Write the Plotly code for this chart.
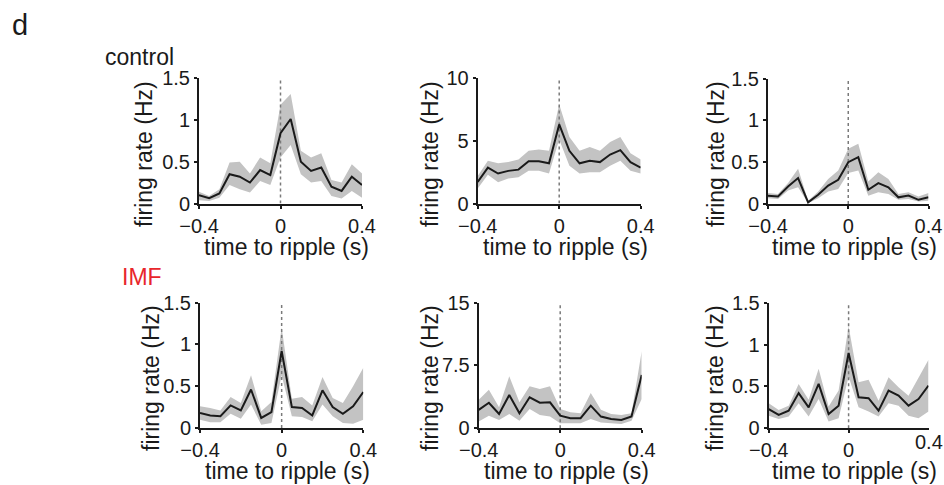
import plotly.graph_objects as go

W, H = 944, 485

t = [-0.4, -0.35, -0.3, -0.25, -0.2, -0.15, -0.1, -0.05, 0.0,
     0.05, 0.1, 0.15, 0.2, 0.25, 0.3, 0.35, 0.4]

# control neuron 1
c1_mean = [0.10, 0.064, 0.12, 0.35, 0.32, 0.25, 0.40, 0.34, 0.84, 1.01, 0.50, 0.39, 0.43, 0.20, 0.15, 0.32, 0.22]
c1_up = [0.14, 0.09, 0.17, 0.49, 0.50, 0.36, 0.55, 0.48, 1.18, 1.31, 0.63, 0.55, 0.60, 0.28, 0.25, 0.47, 0.36]
c1_lo = [0.04, 0.03, 0.07, 0.22, 0.17, 0.13, 0.27, 0.22, 0.55, 0.70, 0.35, 0.25, 0.27, 0.09, 0.06, 0.15, 0.07]

# control neuron 2
c2_mean = [1.72, 2.86, 2.39, 2.6, 2.7, 3.37, 3.37, 3.2, 6.3, 4.2, 3.2, 3.4, 3.3, 3.9, 4.25, 3.3, 2.86]
c2_up = [2.2, 3.4, 3.2, 3.3, 3.5, 4.2, 4.3, 4.2, 7.9, 5.3, 4.2, 4.5, 4.2, 4.9, 5.3, 4.0, 3.5]
c2_lo = [1.2, 2.3, 1.7, 2.0, 2.1, 2.6, 2.6, 2.4, 5.1, 3.0, 2.4, 2.5, 2.5, 3.0, 3.4, 2.6, 2.4]

# control neuron 3
c3_mean = [0.10, 0.09, 0.21, 0.31, 0.02, 0.11, 0.22, 0.29, 0.50, 0.56, 0.17, 0.25, 0.20, 0.08, 0.10, 0.05, 0.08]
c3_up = [0.13, 0.12, 0.25, 0.42, 0.04, 0.15, 0.30, 0.40, 0.66, 0.72, 0.27, 0.38, 0.30, 0.12, 0.14, 0.09, 0.13]
c3_lo = [0.07, 0.06, 0.16, 0.20, 0.01, 0.07, 0.15, 0.18, 0.37, 0.40, 0.10, 0.14, 0.12, 0.05, 0.06, 0.03, 0.04]

# IMF neuron 1
i1_mean = [0.18, 0.15, 0.14, 0.27, 0.21, 0.46, 0.12, 0.19, 0.92, 0.25, 0.24, 0.15, 0.45, 0.25, 0.17, 0.26, 0.43]
i1_up = [0.26, 0.24, 0.21, 0.37, 0.30, 0.63, 0.20, 0.31, 1.20, 0.35, 0.37, 0.27, 0.61, 0.36, 0.30, 0.50, 0.72]
i1_lo = [0.10, 0.07, 0.07, 0.17, 0.11, 0.28, 0.04, 0.06, 0.63, 0.14, 0.13, 0.08, 0.28, 0.14, 0.06, 0.05, 0.10]

# IMF neuron 2
i2_mean = [2.2, 3.05, 1.7, 3.97, 1.8, 3.7, 3.05, 3.1, 1.5, 1.2, 1.2, 2.7, 1.4, 1.1, 1.0, 1.4, 6.35]
i2_up = [3.4, 4.6, 2.5, 6.2, 3.1, 5.0, 4.7, 5.0, 2.3, 1.9, 1.8, 4.2, 2.2, 1.7, 1.6, 1.8, 9.2]
i2_lo = [0.8, 1.5, 1.0, 1.7, 0.9, 2.3, 1.6, 1.4, 0.6, 0.6, 0.6, 1.1, 0.7, 0.6, 0.5, 0.9, 3.5]

# IMF neuron 3
i3_mean = [0.23, 0.16, 0.21, 0.42, 0.25, 0.53, 0.17, 0.27, 0.90, 0.37, 0.36, 0.21, 0.45, 0.39, 0.27, 0.35, 0.51]
i3_up = [0.30, 0.22, 0.27, 0.53, 0.34, 0.71, 0.26, 0.45, 1.22, 0.55, 0.58, 0.33, 0.61, 0.49, 0.39, 0.60, 0.82]
i3_lo = [0.15, 0.11, 0.14, 0.30, 0.14, 0.35, 0.08, 0.12, 0.62, 0.25, 0.20, 0.14, 0.30, 0.27, 0.15, 0.12, 0.20]

x_tickvals = [-0.4, 0, 0.4]
x_ticktext = ["\u22120.4", "0", "0.4"]
y_ticks_small = [0, 0.5, 1, 1.5]
y_ticktext_small = ["0", "0.5", "1", "1.5"]
y_ticks_c2 = [0, 5, 10]
y_ticktext_c2 = ["0", "5", "10"]
y_ticks_i2 = [0, 7.5, 15]
y_ticktext_i2 = ["0", "7.5", "15"]

x_title = "time to ripple (s)"
y_title = "firing rate (Hz)"
group_labels = ["control", "IMF"]
panel_letter = "d"

FONT = "Liberation Sans, Arial, sans-serif"
INK = "#1a1a1a"
BAND = "#c3c3c3"

panels = [
    # mean, up, lo, ymax, tickvals, ticktext, x px range, y px range, ytitle px
    (c1_mean, c1_up, c1_lo, 1.5, y_ticks_small, y_ticktext_small, (199, 362), (78, 203.5), (144, 154)),
    (c2_mean, c2_up, c2_lo, 10, y_ticks_c2, y_ticktext_c2, (477.7, 640.7), (78, 203.5), (430, 154)),
    (c3_mean, c3_up, c3_lo, 1.5, y_ticks_small, y_ticktext_small, (768, 928.5), (78.5, 204), (716, 154)),
    (i1_mean, i1_up, i1_lo, 1.5, y_ticks_small, y_ticktext_small, (200, 363.3), (302.5, 428), (151, 378)),
    (i2_mean, i2_up, i2_lo, 15, y_ticks_i2, y_ticktext_i2, (478.7, 641.7), (302.5, 428.3), (430, 378)),
    (i3_mean, i3_up, i3_lo, 1.5, y_ticks_small, y_ticktext_small, (768.7, 928.5), (302.7, 428.3), (715, 378)),
]

fig = go.Figure()
layout = dict(
    template="none",
    width=W, height=H,
    margin=dict(l=0, r=0, t=0, b=0, pad=0, autoexpand=False),
    paper_bgcolor="white", plot_bgcolor="white",
    showlegend=False,
    font=dict(family=FONT, color=INK, size=20),
)
annotations = []

for k, (mean, up, lo, ymax, yt, ytt, xpx, ypx, ytp) in enumerate(panels):
    n = k + 1
    xa = "x" if n == 1 else f"x{n}"
    ya = "y" if n == 1 else f"y{n}"
    # band
    fig.add_trace(go.Scatter(
        x=t + t[::-1], y=up + lo[::-1], fill="toself", fillcolor=BAND,
        line=dict(width=0), mode="lines", hoverinfo="skip",
        xaxis=xa, yaxis=ya))
    # zero line
    fig.add_trace(go.Scatter(
        x=[0, 0], y=[0, ymax], mode="lines",
        line=dict(color="#7a7a7a", width=1.5, dash="dot"),
        xaxis=xa, yaxis=ya))
    # mean
    fig.add_trace(go.Scatter(
        x=t, y=mean, mode="lines", line=dict(color=INK, width=2),
        xaxis=xa, yaxis=ya))

    xkey = "xaxis" if n == 1 else f"xaxis{n}"
    ykey = "yaxis" if n == 1 else f"yaxis{n}"
    # bottom-right panel: its last x label is placed as an annotation below
    xtv = x_tickvals if n != 6 else x_tickvals[:-1]
    xtt = x_ticktext if n != 6 else x_ticktext[:-1]
    layout[xkey] = dict(
        domain=[xpx[0] / W, xpx[1] / W], range=[-0.4, 0.4], anchor=ya,
        automargin=False,
        showgrid=False, zeroline=False, showline=True, linecolor=INK, linewidth=2,
        ticks="outside", ticklen=3, tickwidth=1.5, tickcolor=INK,
        tickmode="array", tickvals=xtv, ticktext=xtt,
        tickfont=dict(size=20, family=FONT, color=INK),
    )
    layout[ykey] = dict(
        domain=[1 - ypx[1] / H, 1 - ypx[0] / H], range=[0, ymax], anchor=xa,
        automargin=False,
        showgrid=False, zeroline=False, showline=True, linecolor=INK, linewidth=2,
        ticks="outside", ticklen=3, tickwidth=1.5, tickcolor=INK,
        tickmode="array", tickvals=yt, ticktext=ytt,
        tickfont=dict(size=20, family=FONT, color=INK),
    )
    # y title
    annotations.append(dict(
        text=y_title, x=ytp[0] / W, y=1 - ytp[1] / H, xref="paper", yref="paper",
        textangle=-90, showarrow=False, xanchor="center", yanchor="middle",
        font=dict(size=23, family=FONT, color=INK)))
    # x title
    xc = (xpx[0] + xpx[1]) / 2 + 6
    yc = ypx[1] + 43
    annotations.append(dict(
        text=x_title, x=xc / W, y=1 - yc / H, xref="paper", yref="paper",
        showarrow=False, xanchor="center", yanchor="middle",
        font=dict(size=23, family=FONT, color=INK)))

# last x tick of the bottom-right panel: tick mark via a short shape-like line
# trace is not needed; label placed at the axis value with the library's scale
annotations.append(dict(
    text=x_ticktext[-1], x=x_tickvals[-1], y=0, xref="x6", yref="y6",
    showarrow=False, xanchor="center", yanchor="middle", yshift=-14,
    font=dict(size=20, family=FONT, color=INK)))

annotations.append(dict(
    text=panel_letter, x=10 / W, y=1 - 25 / H, xref="paper", yref="paper",
    showarrow=False, xanchor="left", yanchor="middle",
    font=dict(size=29, family=FONT, color=INK)))
annotations.append(dict(
    text=group_labels[0], x=103 / W, y=1 - 57 / H, xref="paper", yref="paper",
    showarrow=False, xanchor="left", yanchor="middle",
    font=dict(size=23, family=FONT, color=INK)))
annotations.append(dict(
    text=group_labels[1], x=120 / W, y=1 - 277 / H, xref="paper", yref="paper",
    showarrow=False, xanchor="left", yanchor="middle",
    font=dict(size=23, family=FONT, color="#e8262b")))

layout["annotations"] = annotations
fig.update_layout(**layout)
fig.write_html("out.html")
